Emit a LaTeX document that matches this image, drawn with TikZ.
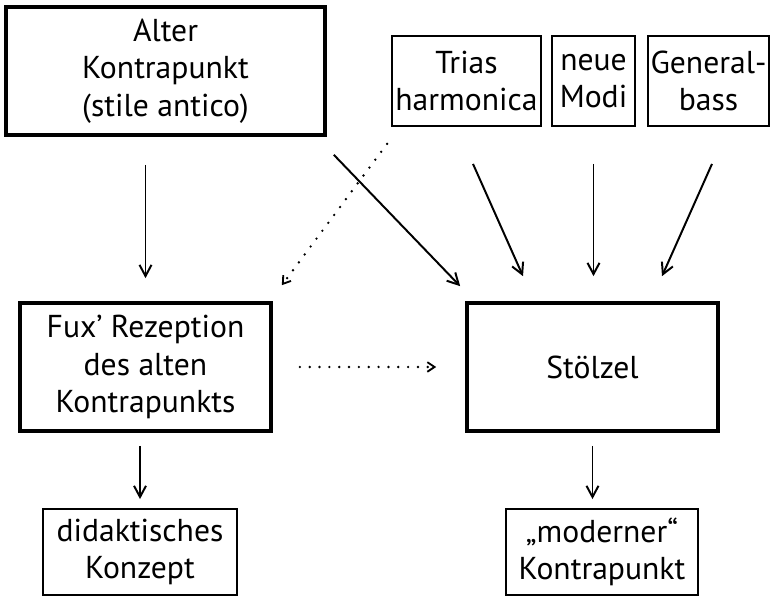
\documentclass[tikz,border=0pt]{standalone}
\usepackage{fontspec}
\setmainfont{PT Sans}
\usepackage{tikz}
\usetikzlibrary{arrows.meta, positioning, calc}

\tikzset{
  thickbox/.style={draw, line width=2.6pt, inner sep=0pt, align=center},
  thinbox/.style={draw, line width=1.3pt, inner sep=0pt, align=center},
  arr/.style={line width=1.4pt, -{Straight Barb[length=2.8mm,width=3mm]}},
  dotarr/.style={line width=1.9pt, line cap=round, dash pattern=on 0pt off 7pt, -{Straight Barb[length=1.8mm,width=2.4mm,line width=1.3pt,line cap=butt]}}
}

\begin{document}
\begin{tikzpicture}[x=0.025cm, y=-0.025cm]
\useasboundingbox (0,0) rectangle (770,596);
\fontsize{22.5}{26.5}\selectfont
% top row
\node [thickbox, minimum width=319*0.025cm, minimum height=128*0.025cm] (alter) at (165.5,71) {Alter\\Kontrapunkt\\(stile antico)};
\node [thinbox, minimum width=149*0.025cm, minimum height=90*0.025cm] (trias) at (466.5,81) {Trias\\harmonica};
\node [thinbox, minimum width=83*0.025cm, minimum height=90*0.025cm] (modi) at (593.5,81) {neue\\Modi};
\node [thinbox, minimum width=121*0.025cm, minimum height=90*0.025cm] (general) at (708.5,81) {General-\\bass};
% middle row
\node [thickbox, minimum width=251*0.025cm, minimum height=128*0.025cm] (fux) at (145.5,367) {Fux’ Rezeption\\des alten\\Kontrapunkts};
\node [thickbox, minimum width=251*0.025cm, minimum height=128*0.025cm] (stoelzel) at (592.5,367) {Stölzel};
% bottom row
\node [thinbox, minimum width=194*0.025cm, minimum height=86*0.025cm] (didakt) at (140,552) {didaktisches\\Konzept};
\node [thinbox, minimum width=192*0.025cm, minimum height=86*0.025cm] (modern) at (602,552) {„moderner“\\Kontrapunkt};

\draw [arr, shorten <=0.7cm, shorten >=0.575cm] (fux.north |- alter.south) -- (fux.north);
\draw [arr] ($(alter.south east)+(7,18)$) -- ($(stoelzel.north west)+(-5,-15)$);
\draw [dotarr] ($(trias.south west)+(-4,17)$) -- ($(fux.north east)+(9,-16)$);
\draw [arr] ($(trias.south)+(6.5,37)$) -- ($(stoelzel.north)+(-69.5,-25)$);
\draw [arr, shorten <=0.925cm, shorten >=0.625cm] (modi.south) -- (modi.south |- stoelzel.north);
\draw [arr] ($(general.south)+(3.5,37)$) -- ($(stoelzel.north)+(69.5,-25)$);
\draw [dotarr, shorten <=0.675cm, shorten >=0.725cm] (fux.east) -- (stoelzel.west);
\draw [arr, shorten <=0.325cm, shorten >=0.225cm] (didakt.north |- fux.south) -- (didakt.north);
\draw [arr, shorten <=0.325cm, shorten >=0.225cm] (stoelzel.south) -- (stoelzel.south |- modern.north);
\end{tikzpicture}
\end{document}
